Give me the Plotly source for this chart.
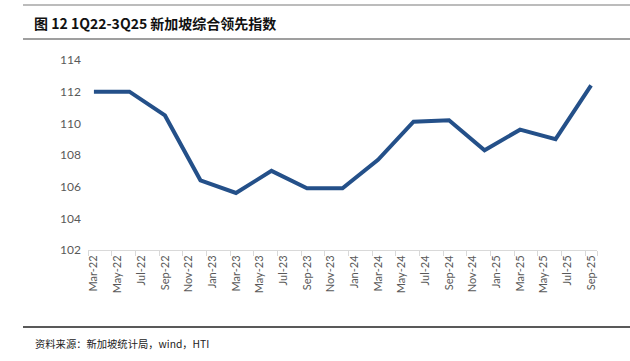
import plotly.graph_objects as go

# Data (quarterly)
data_months = ["Mar-22", "Jun-22", "Sep-22", "Dec-22", "Mar-23", "Jun-23", "Sep-23", "Dec-23",
               "Mar-24", "Jun-24", "Sep-24", "Dec-24", "Mar-25", "Jun-25", "Sep-25"]
index_values = [112.0, 112.0, 110.5, 106.4, 105.6, 107.0, 105.9, 105.9,
                107.7, 110.1, 110.2, 108.3, 109.6, 109.0, 112.4]

# Monthly axis categories (Mar-22 .. Sep-25)
mon_names = ["Jan", "Feb", "Mar", "Apr", "May", "Jun", "Jul", "Aug", "Sep", "Oct", "Nov", "Dec"]
all_months = []
for yr in range(22, 26):
    for m in mon_names:
        all_months.append(f"{m}-{yr}")
all_months = all_months[all_months.index("Mar-22"): all_months.index("Sep-25") + 1]
tick_labels = all_months[::2]

y_ticks = [102, 104, 106, 108, 110, 112, 114]

title_text = "图 12 1Q22-3Q25 新加坡综合领先指数"
source_text = "资料来源：新加坡统计局，wind，HTI"

x_idx = [all_months.index(m) for m in data_months]
tick_idx = [all_months.index(m) for m in tick_labels]

fig = go.Figure()
fig.add_trace(go.Scatter(
    x=x_idx, y=index_values, mode="lines",
    line=dict(color="#245089", width=4),
    hoverinfo="skip", showlegend=False,
))

fig.update_layout(
    width=630, height=361,
    margin=dict(l=88, r=33, t=60, b=111),
    paper_bgcolor="white", plot_bgcolor="white",
    font=dict(family="Lato, Open Sans, sans-serif", color="#595959"),
    xaxis=dict(
        range=[-0.5, len(all_months) - 0.5],
        tickmode="array", tickvals=tick_idx, ticktext=tick_labels,
        tickangle=-90, ticks="", showgrid=False, zeroline=False,
        showline=True, linecolor="#d9d9d9", linewidth=1,
        tickfont=dict(size=11, color="#595959"),
        minor=dict(tickmode="array", tickvals=[i - 0.5 for i in tick_idx] + [len(all_months) - 0.5],
                   ticks="outside", ticklen=5, tickcolor="#d9d9d9", showgrid=False),
    ),
    yaxis=dict(
        range=[102, 114], tickmode="array", tickvals=y_ticks,
        showgrid=False, zeroline=False, showline=False, ticks="",
        tickfont=dict(size=12, color="#595959"),
        ticklabelstandoff=6,
    ),
    shapes=[
        dict(type="line", xref="paper", yref="paper", x0=-65/509, x1=(630-88)/509,
             y0=(250-5)/190, y1=(250-5)/190, line=dict(color="#a6a6a6", width=1.5)),
        dict(type="line", xref="paper", yref="paper", x0=-65/509, x1=(630-88)/509,
             y0=(250-39)/190, y1=(250-39)/190, line=dict(color="#7f7f7f", width=1.5)),
        dict(type="line", xref="paper", yref="paper", x0=-65/509, x1=(630-88)/509,
             y0=(250-327)/190, y1=(250-327)/190, line=dict(color="#222222", width=1.5)),
    ],
    annotations=[
        dict(text="<b>" + title_text + "</b>", xref="paper", yref="paper",
             x=-56/509, y=(250-23)/190, xanchor="left", yanchor="middle", showarrow=False,
             font=dict(family="Noto Sans CJK SC", size=14, color="#111111")),
        dict(text=source_text, xref="paper", yref="paper",
             x=-55/509, y=(250-343)/190, xanchor="left", yanchor="middle", showarrow=False,
             font=dict(family="Noto Sans CJK SC", size=10.3, color="#222222")),
    ],
)

fig.write_html("out.html",
               config={"displayModeBar": False},
               post_script="document.body.style.margin='0';document.body.style.padding='0';"
                           "document.body.style.overflow='hidden';")
